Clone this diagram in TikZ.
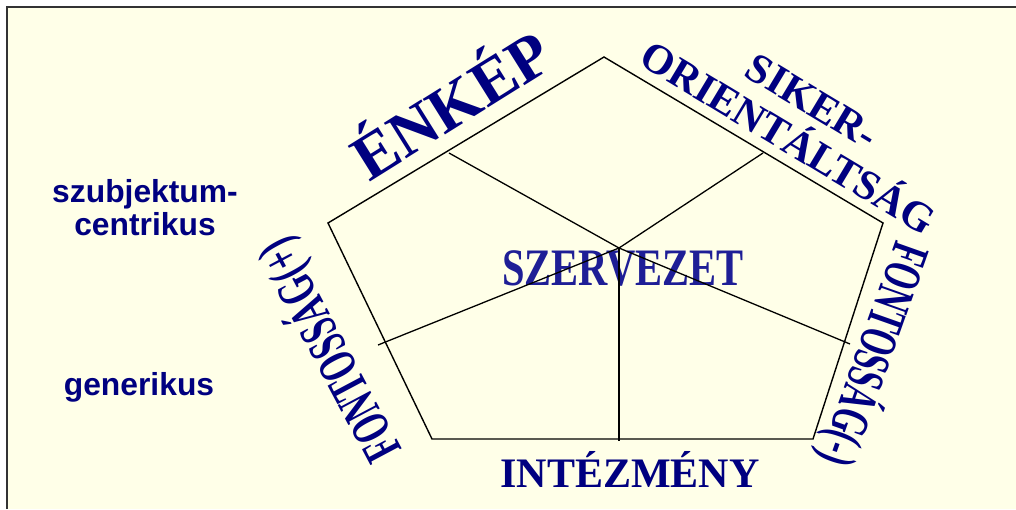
\documentclass[tikz,border=0pt]{standalone}
\usepackage{fontspec}
\setmainfont{Liberation Serif}
\newfontfamily\sansfam{Liberation Sans}
\definecolor{navy}{RGB}{0,0,128}
\definecolor{szcol}{RGB}{30,30,150}
\definecolor{cream}{RGB}{255,255,232}
\definecolor{framegray}{RGB}{51,51,51}
\begin{document}
\begin{tikzpicture}[x=1pt,y=-1pt,
  edge/.style={line width=1.4pt, black, line join=miter},
  spoke/.style={line width=1.3pt, black},
  big/.style={text=navy, font=\bfseries, inner sep=0pt, anchor=base},
  side/.style={text=navy, font=\sansfam\bfseries\fontsize{31.8}{33}\selectfont, inner sep=0pt, anchor=base, align=center}]
\useasboundingbox (0,0) rectangle (1016,509);
\fill[white] (0,0) rectangle (1016,509);
\fill[cream] (7,7) rectangle (1016,509);
\draw[framegray, line width=2.2pt] (7,509) -- (7,7) -- (1016,7);

% pentagon corners
\coordinate (T) at (604,57);
\coordinate (RU) at (883,223);
\coordinate (RL) at (813,439);
\coordinate (LL) at (432,439);
\coordinate (LU) at (328,223);
\coordinate (C) at (619,248);
% spoke ends
\coordinate (s1) at (449,153);
\coordinate (s2) at (763,153);
\coordinate (s3) at (619,441);
\coordinate (s4) at (378,345);
\coordinate (s5) at (850,344);

% center text under lines
\node[big, text=szcol, font=\bfseries\fontsize{40.5}{44}\selectfont] (szerv) at (623,285) {\scalebox{1}[1.3]{SZERVEZET}};

\draw[edge] (T) -- (RU) -- (RL) -- (LL) -- (LU) -- cycle;
\foreach \s in {s1,s2,s3,s4,s5} \draw[spoke] (C) -- (\s);

\node[big, font=\bfseries\fontsize{64}{70}\selectfont, rotate=32] (enkep) at (463,124) {ÉNKÉP};
\node[big, font=\bfseries\fontsize{42}{46}\selectfont, rotate=-31] (siker) at (805,113) {SIKER-};
\node[big, font=\bfseries\fontsize{42}{46}\selectfont, rotate=-31] (orient) at (781,150) {ORIENTÁLTSÁG};
\node[big, font=\bfseries\fontsize{42}{46}\selectfont] (intez) at (630,487) {INTÉZMÉNY};
\node[big, font=\bfseries\fontsize{33}{36}\selectfont, rotate=118] (fplus) at (345,342) {\scalebox{1}[1.64]{FONTOSSÁG(+)}};
\node[big, font=\bfseries\fontsize{32.5}{36}\selectfont, rotate=-109.5] (fminus) at (858,349) {\scalebox{1}[1.64]{FONTOSSÁG(-)}};

\node[side] (szubj) at (145,235) {szubjektum-\\centrikus};
\node[side] (gener) at (139,395) {generikus};
\end{tikzpicture}
\end{document}
